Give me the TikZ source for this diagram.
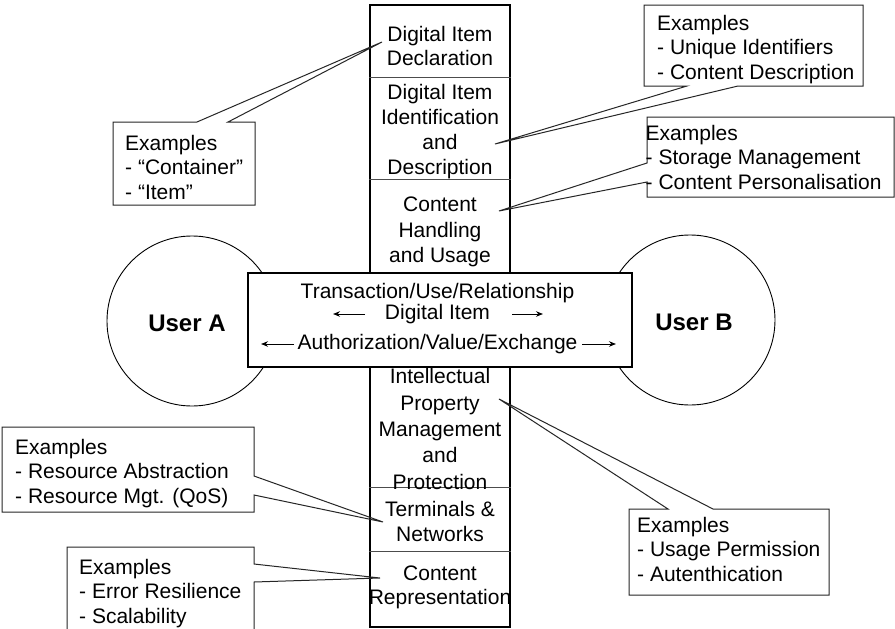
\documentclass[tikz,border=0pt]{standalone}
\usepackage{fontspec}
\setmainfont{Liberation Sans}
\usetikzlibrary{arrows.meta}
\begin{document}
\begin{tikzpicture}[x=1pt,y=-1pt,
  thickbox/.style={draw, line width=2.4pt, inner sep=0pt},
  divider/.style={draw=black!70, line width=0.9pt},
  userc/.style={circle, draw, line width=0.9pt, minimum size=170pt, inner sep=0pt},
  usertxt/.style={font=\fontsize{24}{28}\selectfont\bfseries, inner sep=0pt},
  coltxt/.style={font=\fontsize{21}{25}\selectfont, align=center, inner sep=0pt},
  boxtxt/.style={font=\fontsize{21}{25}\selectfont, inner sep=0pt},
  extxt/.style={font=\fontsize{21}{24.5}\selectfont, align=left, anchor=north west, inner sep=0pt},
  callout/.style={draw=black!85, line width=1pt, line join=miter},
  arr/.style={-{Stealth[length=7pt,width=5.5pt]}, line width=1pt}
]
\useasboundingbox (0,0) rectangle (895,629);
\clip (0,0) rectangle (895,629);
\fill[white] (0,0) rectangle (895,629);

% users
\node[userc] (ua) at (192,321) {};
\node[userc] (ub) at (690,320) {};
\node[usertxt] (uat) at (187,323) {User A};
\node[usertxt] (ubt) at (694,322) {User B};

% vertical column
\node[thickbox, minimum width=140pt, minimum height=622pt] (col) at (440,316) {};
\draw[divider] (col.west |- 0,77) -- (col.east |- 0,77);
\draw[divider] (col.west |- 0,179) -- (col.east |- 0,179);
\draw[divider] (col.west |- 0,487) -- (col.east |- 0,487);
\draw[divider] (col.west |- 0,551) -- (col.east |- 0,551);

\node[coltxt] (did) at (440,46) {Digital Item\\[-1pt]Declaration};
\node[coltxt] (diid) at (440,132) {Digital Item\\Identification\\and\\Description};
\node[coltxt] (chu) at (440,232) {Content\\[0.5pt]Handling\\[0.5pt]and Usage};
\node[coltxt] (ipmp) at (440,429) {Intellectual\\[1.3pt]Property\\[1.3pt]Management\\[1.3pt]and\\[1.3pt]Protection};
\node[coltxt] (tn) at (440,521) {Terminals \&\\Networks};
\node[coltxt] (cr) at (440,587) {Content\\[-1pt]Representation};

% horizontal box
\node[thickbox, fill=white, minimum width=384pt, minimum height=94pt] (hb) at (440,320) {};
\node[boxtxt] (tur) at (437.5,293) {Transaction/Use/Relationship};
\node[boxtxt] (di) at (437.5,314) {Digital Item};
\node[boxtxt] (ave) at (437.5,344) {Authorization/Value/Exchange};
\coordinate (a1s) at (365,314); \coordinate (a1e) at (333,314);
\coordinate (a2s) at (512,314); \coordinate (a2e) at (543,314);
\coordinate (a3s) at (294,344); \coordinate (a3e) at (261,344);
\coordinate (a4s) at (582,344); \coordinate (a4e) at (616,344);
\draw[arr] (a1s) -- (a1e);
\draw[arr] (a2s) -- (a2e);
\draw[arr] (a3s) -- (a3e);
\draw[arr] (a4s) -- (a4e);

% callout 1 (Container / Item)
\coordinate (t1) at (382,42);
\draw[callout] (197,122) -- (t1) -- (228,122) -- (255,122) -- (255,205) -- (113,205) -- (113,122) -- cycle;
\node[extxt] (c1) at (125,135) {Examples\\- “Container”\\- “Item”};

% callout 2 (Unique identifiers)
\coordinate (t2) at (495,144);
\draw[callout] (644,5) -- (863,5) -- (863,86) -- (738,86) -- (t2) -- (687,86) -- (644,86) -- cycle;
\node[extxt] (c2) at (657,15) {Examples\\- Unique Identifiers\\- Content Description};

% callout 3 (Storage management)
\coordinate (t3) at (499,211);
\draw[callout] (647,117) -- (894,117) -- (894,197) -- (647,197) -- (647,182) -- (t3) -- (647,163) -- cycle;
\node[extxt] (c3) at (645.5,125) {Examples\\- Storage Management\\- Content Personalisation};

% callout 4 (Resource abstraction)
\coordinate (t4) at (383,522);
\draw[callout] (2,427) -- (254,427) -- (254,476) -- (t4) -- (254,495) -- (254,512) -- (2,512) -- cycle;
\node[extxt] (c4) at (15,439) {Examples\\- Resource Abstraction\\- Resource Mgt. (QoS)};

% callout 5 (Error resilience)
\coordinate (t5) at (380,578);
\draw[callout] (67,547) -- (254,547) -- (254,564) -- (t5) -- (254,582) -- (254,650) -- (67,650) -- cycle;
\node[extxt] (c5) at (79,559) {Examples\\- Error Resilience\\- Scalability};

% callout 6 (Usage permission)
\coordinate (t6) at (499,399);
\draw[callout] (629,509) -- (668,509) -- (t6) -- (713,509) -- (829,509) -- (829,595) -- (629,595) -- cycle;
\node[extxt] (c6) at (637,517) {Examples\\- Usage Permission\\- Autenthication};
\end{tikzpicture}
\end{document}
